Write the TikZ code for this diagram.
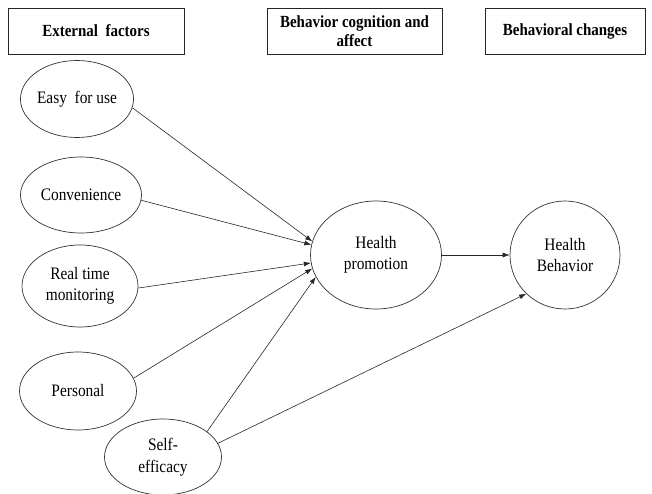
\documentclass[tikz,border=0pt]{standalone}
\usepackage{fontspec}
\setmainfont{Liberation Serif}[FakeStretch=0.88]
\usetikzlibrary{shapes.geometric,arrows.meta}
\begin{document}
\begin{tikzpicture}[x=1pt,y=-1pt,
  hdr/.style={draw=black!85, line width=0.8pt, minimum height=46pt, inner sep=0pt, align=center,
    font=\fontsize{17}{19.5}\selectfont\bfseries},
  factor/.style={ellipse, draw=black!80, line width=0.7pt, inner sep=0pt, align=center,
    font=\fontsize{17.5}{21.5}\selectfont},
  conn/.style={-{Latex[length=7pt,width=5pt]}, line width=0.6pt, draw=black!85}]
\useasboundingbox (0,0) rectangle (652,494);
\node[hdr, minimum width=176pt] (h1) at (96,31) {External\ \ factors};
\node[hdr, minimum width=175pt] (h2) at (354.5,31) {Behavior cognition and\\affect};
\node[hdr, minimum width=160pt] (h3) at (565,31) {Behavioral changes};

\node[factor, minimum width=113pt, minimum height=77pt] (easy) at (77,99) {Easy\ \ for use};
\node[factor, minimum width=121pt, minimum height=76pt] (conv) at (81,195) {Convenience};
\node[factor, minimum width=116pt, minimum height=82pt] (real) at (80,286) {Real time\\monitoring};
\node[factor, minimum width=117pt, minimum height=78pt] (pers) at (78,391) {Personal};
\node[factor, minimum width=117pt, minimum height=76pt] (self) at (163,457) {Self-\\efficacy};
\node[factor, minimum width=131pt, minimum height=108pt] (hp) at (376,255) {Health\\promotion};
\node[factor, minimum width=110pt, minimum height=108pt] (hb) at (565,255) {Health\\Behavior};

\draw[conn] (easy.-9) -- (hp.168);
\draw[conn] (conv.-5) -- (hp.171);
\draw[conn] (real.-2) -- (hp.187);
\draw[conn] (pers.13) -- (hp.192);
\draw[conn] (self.30) -- (hp.200);
\draw[conn] (self.14) -- (hb.225);
\draw[conn] (hp) -- (hb);
\end{tikzpicture}
\end{document}
